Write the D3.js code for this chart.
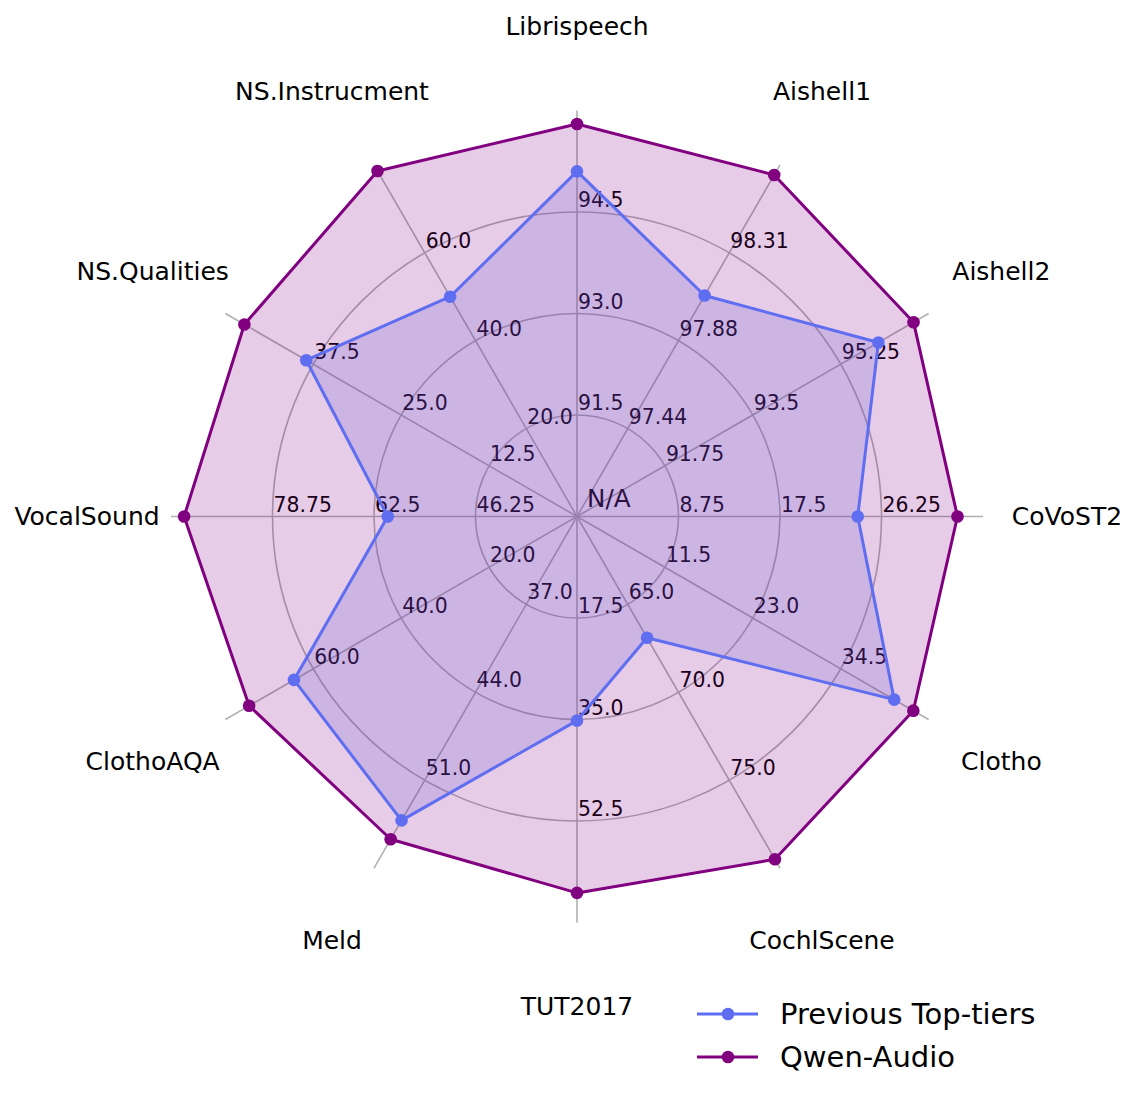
<!DOCTYPE html>
<html>
<head>
<meta charset="utf-8">
<script src="https://cdn.jsdelivr.net/npm/d3@7"></script>
<style>
  html, body { margin: 0; padding: 0; background: #ffffff; }
  svg { display: block; font-family: "DejaVu Sans", sans-serif; }
</style>
</head>
<body>
<svg id="chart" width="1137" height="1101"></svg>
<script>
// ---- data ----
const categories = ["Librispeech", "Aishell1", "Aishell2", "CoVoST2", "Clotho", "CochlScene",
  "TUT2017", "Meld", "ClothoAQA", "VocalSound", "NS.Qualities", "NS.Instrucment"];
const axisMin = [90, 97, 90, 0, 0, 60, 0, 30, 0, 30, 0, 0];
const axisMax = [96, 98.75, 97, 35, 46, 80, 70, 58, 80, 95, 50, 80];
const tickLabels = [
  ["91.5", "93.0", "94.5"],
  ["97.44", "97.88", "98.31"],
  ["91.75", "93.5", "95.25"],
  ["8.75", "17.5", "26.25"],
  ["11.5", "23.0", "34.5"],
  ["65.0", "70.0", "75.0"],
  ["17.5", "35.0", "52.5"],
  ["37.0", "44.0", "51.0"],
  ["20.0", "40.0", "60.0"],
  ["46.25", "62.5", "78.75"],
  ["12.5", "25.0", "37.5"],
  ["20.0", "40.0", "60.0"]
];
const gridLevels = [1, 2, 3];
const seriesNames = ["Previous Top-tiers", "Qwen-Audio"];
const previousTop = [95.1, 98.1, 96.0, 24.2, 41.5, 66.9, 35.2, 54.2, 64.4, 60.3, 38.5, 50.0];
const qwenAudio   = [95.8, 98.7, 96.7, 32.8, 44.0, 79.5, 64.9, 55.7, 74.6, 92.9, 47.3, 78.6];
const seriesColors = ["#5f6ef0", "#800080"];

// ---- layout ----
const cx = 577, cy = 516.5, R = 406;
const svg = d3.select("#chart");
const g = svg.append("g").attr("transform", `translate(${cx},${cy})`);

const n = categories.length;
const angle = d3.scaleLinear().domain([0, n]).range([0, 2 * Math.PI]);
const gridR = d3.scaleLinear().domain([0, 4]).range([0, R]);
const axisScales = categories.map((c, i) =>
  d3.scaleLinear().domain([axisMin[i], axisMax[i]]).range([0, R]));

const px = (a, r) => r * Math.sin(a);
const py = (a, r) => -r * Math.cos(a);

// grid circles
g.selectAll("circle.grid").data(gridLevels).join("circle")
  .attr("class", "grid")
  .attr("r", d => gridR(d))
  .attr("fill", "none").attr("stroke", "#b0b0b0").attr("stroke-width", 1.6);

// radial axis lines
g.selectAll("line.spoke").data(categories).join("line")
  .attr("class", "spoke")
  .attr("x1", 0).attr("y1", 0)
  .attr("x2", (d, i) => px(angle(i), R))
  .attr("y2", (d, i) => py(angle(i), R))
  .attr("stroke", "#b0b0b0").attr("stroke-width", 1.6);

// tick labels per axis (drawn under the fills)
categories.forEach((c, i) => {
  const a = angle(i);
  g.selectAll(null).data(gridLevels).join("text")
    .attr("x", d => px(a, gridR(d)) + 1)
    .attr("y", d => py(a, gridR(d)) - 5)
    .attr("font-size", 20.4)
    .attr("fill", "#000")
    .text((d, k) => tickLabels[i][k]);
});
g.append("text").attr("x", 10).attr("y", -9.5)
  .attr("font-size", 24.6).attr("fill", "#000").text("N/A");

// series
const seriesData = [previousTop, qwenAudio];
const radial = d3.lineRadial()
  .angle((d, i) => angle(i))
  .radius((d, i) => axisScales[i](d))
  .curve(d3.curveLinearClosed);

// fills: previous first, then Qwen over it
[0, 1].forEach(s => {
  g.append("path").attr("d", radial(seriesData[s]))
    .attr("fill", seriesColors[s]).attr("fill-opacity", 0.2)
    .attr("stroke", "none");
});
[0, 1].forEach(s => {
  g.append("path").attr("d", radial(seriesData[s]))
    .attr("fill", "none").attr("stroke", seriesColors[s]).attr("stroke-width", 3)
    .attr("stroke-linejoin", "round");
  g.selectAll(null).data(seriesData[s]).join("circle")
    .attr("cx", (d, i) => px(angle(i), axisScales[i](d)))
    .attr("cy", (d, i) => py(angle(i), axisScales[i](d)))
    .attr("r", 6.3).attr("fill", seriesColors[s]);
});

// category labels
const labelR = 490;
g.selectAll("text.cat").data(categories).join("text")
  .attr("class", "cat")
  .attr("x", (d, i) => px(angle(i), labelR))
  .attr("y", (d, i) => py(angle(i), labelR))
  .attr("dy", "0.32em")
  .attr("text-anchor", "middle")
  .attr("font-size", 25).attr("fill", "#000")
  .text(d => d);

// legend
const legend = svg.append("g").attr("transform", "translate(697,1014)");
seriesNames.forEach((name, s) => {
  const row = legend.append("g").attr("transform", `translate(0,${s * 43})`);
  row.append("line").attr("x1", 0).attr("x2", 61).attr("y1", 0).attr("y2", 0)
    .attr("stroke", seriesColors[s]).attr("stroke-width", 3);
  row.append("circle").attr("cx", 31).attr("cy", 0).attr("r", 6.3).attr("fill", seriesColors[s]);
  row.append("text").attr("x", 83).attr("y", 0).attr("dy", "0.36em")
    .attr("font-size", 29).attr("fill", "#000").text(name);
});
</script>
</body>
</html>
